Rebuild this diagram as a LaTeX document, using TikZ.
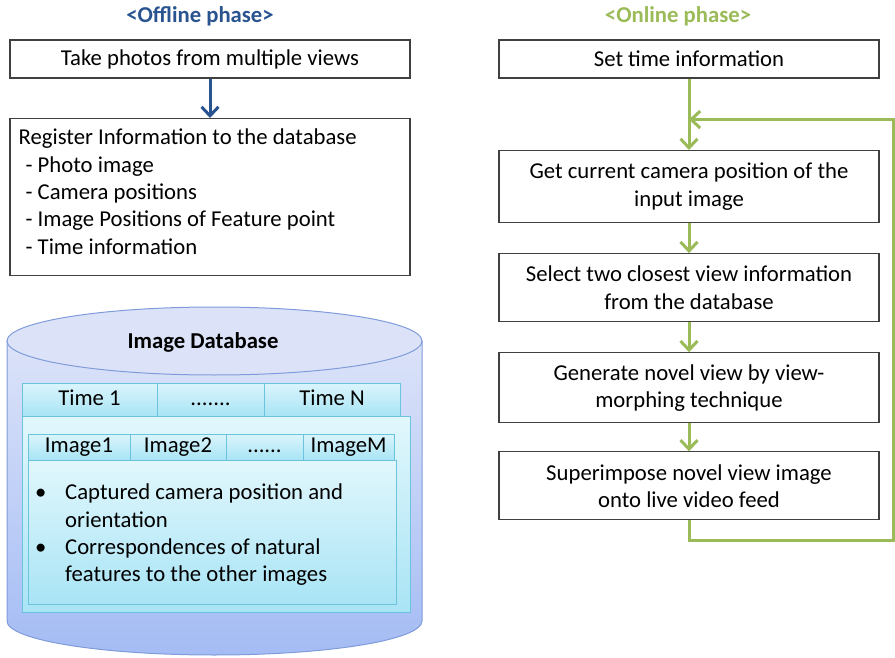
\documentclass[tikz,border=0pt]{standalone}
\usepackage{fontspec}
\setmainfont{Carlito}
\usetikzlibrary{arrows.meta,positioning}

\definecolor{offblue}{HTML}{2A5490}
\definecolor{ongreen}{HTML}{9BBB59}
\definecolor{boxgray}{HTML}{404040}
\definecolor{dbtop}{HTML}{DCE3F9}
\definecolor{dbbot}{HTML}{A4BCF4}
\definecolor{dbline}{HTML}{7F9BD9}
\definecolor{tabtop}{HTML}{DAF5FC}
\definecolor{tabbot}{HTML}{A9E4F5}
\definecolor{tabline}{HTML}{6BC3DD}

\begin{document}
\begin{tikzpicture}[x=1pt,y=-1pt,font=\fontsize{22.7}{27.3}\selectfont,
                    >={Straight Barb[length=9pt,width=17pt]},node distance=30pt]
  \tikzstyle{stepbox}=[draw=boxgray,line width=1.1pt,fill=white,inner sep=0pt,
                       minimum width=380pt,minimum height=38pt]
  \tikzstyle{flowb}=[->,draw=offblue,line width=3pt]
  \tikzstyle{flowg}=[->,draw=ongreen,line width=3pt]
  \tikzstyle{tab}=[draw=tabline,line width=0.8pt,top color=tabtop,bottom color=tabbot,
                   inner sep=0pt,text height=15pt,text depth=4pt]
  \tikzstyle{panel}=[draw=tabline,line width=0.8pt,top color=tabtop!80!white,
                     bottom color=tabbot,inner sep=0pt]
  \useasboundingbox (0,0) rectangle (895,658);

  % offline phase
  \node[text=offblue,font=\fontsize{22.7}{27}\selectfont\bfseries] (offtitle) at (200,16) {<Offline phase>};
  \node[stepbox,minimum width=400pt] (photos) at (210,59) {Take photos from multiple views};
  \node[stepbox,minimum width=400pt,minimum height=157pt,anchor=north] (register) at (210,118) {};
  \node[anchor=north west,align=left,inner sep=0pt] (reginfo) at ([xshift=9pt,yshift=-11pt]register.north west)
        {Register Information to the database\\
         \hspace*{7pt}- Photo image\\
         \hspace*{7pt}- Camera positions\\
         \hspace*{7pt}- Image Positions of Feature point\\
         \hspace*{7pt}- Time information};
  \draw[flowb] (photos) -- (register);

  % image database
  \shade[top color=dbtop,bottom color=dbbot,draw=dbline,line width=1pt]
    (7,341) -- (7,621) arc[start angle=180,end angle=360,x radius=207.5pt,y radius=34pt]
    -- (422,341) -- cycle;
  \filldraw[fill=dbtop,draw=dbline,line width=1pt] (214.5,341) ellipse[x radius=207.5pt,y radius=34pt];
  \node[font=\fontsize{22.7}{27}\selectfont\bfseries] (dbtitle) at (203,342) {Image Database};

  \node[panel,minimum width=388pt,minimum height=196pt] (timepanel) at (216,514) {};
  \node[tab,minimum width=135pt,minimum height=33pt] (time1) at (89.5,399.5) {Time 1};
  \node[tab,minimum width=107pt,minimum height=33pt] (timedots) at (210.5,399.5) {.......};
  \node[tab,minimum width=136pt,minimum height=33pt] (timeN) at (332,399.5) {Time N};

  \node[panel,minimum width=368pt,minimum height=144pt] (imgpanel) at (212,532) {};
  \node[tab,minimum width=102pt,minimum height=26pt] (img1) at (79,447) {Image1};
  \node[tab,minimum width=96pt,minimum height=26pt] (img2) at (178,447) {Image2};
  \node[tab,minimum width=77pt,minimum height=26pt] (imgdots) at (264.5,447) {......};
  \node[tab,minimum width=91pt,minimum height=26pt] (imgM) at (348.5,447) {ImageM};
  \node[anchor=north west,align=left,inner sep=0pt] (imginfo) at (35,484)
        {\makebox[30pt][l]{•}Captured camera position and\\
         \hspace*{30pt}orientation\\
         \makebox[30pt][l]{•}Correspondences of natural\\
         \hspace*{30pt}features to the other images};

  % online phase
  \node[text=ongreen,font=\fontsize{22.7}{27}\selectfont\bfseries] (ontitle) at (678,16) {<Online phase>};
  \node[stepbox] (settime) at (689,59) {Set time information};
  \node[stepbox,minimum height=72pt,anchor=north,align=center] (getpos) at (689,150)
        {Get current camera position of the\\ input image};
  \node[stepbox,minimum height=68pt,align=center,below=30pt of getpos] (select)
        {Select two closest view information\\ from the database};
  \node[stepbox,minimum height=70pt,align=center,below=30pt of select] (generate)
        {Generate novel view by view-\\ morphing technique};
  \node[stepbox,minimum height=68pt,align=center,below=28pt of generate] (superimpose)
        {Superimpose novel view image\\ onto live video feed};

  \draw[flowg] (settime) -- (getpos);
  \draw[flowg] (getpos) -- (select);
  \draw[flowg] (select) -- (generate);
  \draw[flowg] (generate) -- (superimpose);

  \coordinate (loopturn) at (893,540);
  \coordinate (joinpt) at ([yshift=-41pt]settime.south);
  \draw[flowg] (superimpose.south) |- (loopturn) |- (joinpt);
\end{tikzpicture}
\end{document}
